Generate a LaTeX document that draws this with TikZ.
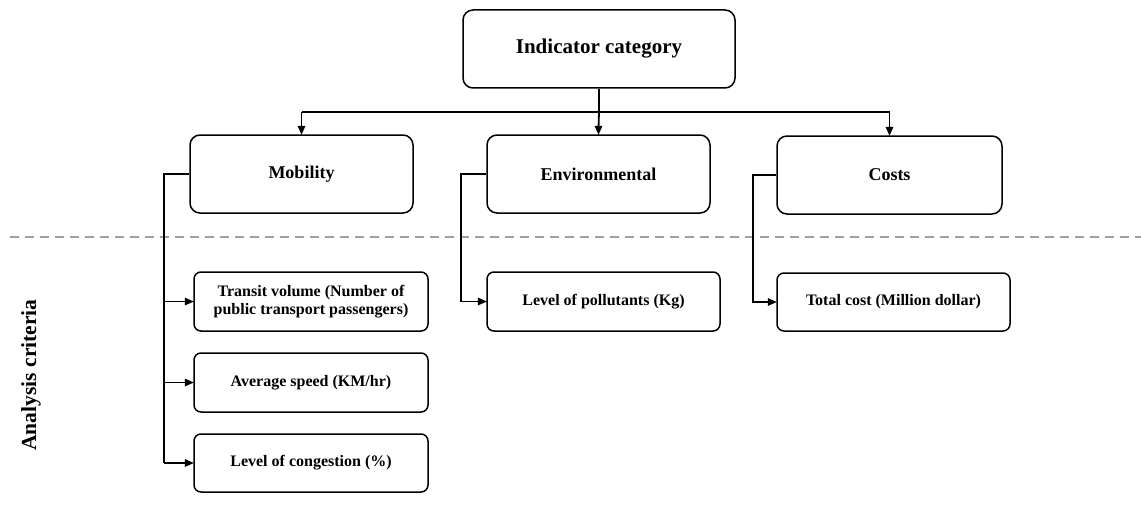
\documentclass[tikz,border=0pt]{standalone}
\usepackage{fontspec}
\setmainfont{Liberation Serif}
\begin{document}
\begin{tikzpicture}[x=1pt,y=1pt,
  box/.style={draw,line width=1.5pt,rounded corners=10pt,inner sep=0pt,align=center,font=\bfseries},
  sub/.style={draw,line width=1.5pt,rounded corners=7pt,inner sep=0pt,align=center,font=\bfseries\fontsize{16}{18.5}\selectfont},
  con/.style={line width=1.8pt},
  rtip/.pic={\fill (0.5,0) -- (-8.5,4) -- (-8.5,-4) -- cycle;},
  dtip/.pic={\fill (0,-0.5) -- (-4,8.5) -- (4,8.5) -- cycle;}]
\useasboundingbox (0,0) rectangle (1141,-519);
\node[box,minimum width=272pt,minimum height=78pt,font=\bfseries\fontsize{21}{25}\selectfont] (top) at (599,-49) {Indicator category};
\node[box,minimum width=223pt,minimum height=78pt,font=\bfseries\fontsize{18}{21}\selectfont] (mob) at (301.5,-174) {Mobility};
\node[box,minimum width=223pt,minimum height=78pt,font=\bfseries\fontsize{18}{21}\selectfont] (env) at (598.5,-174) {Environmental};
\node[box,minimum width=225pt,minimum height=78pt,font=\bfseries\fontsize{18}{21}\selectfont] (cost) at (889.5,-175) {Costs};
\node[sub,minimum width=234pt,minimum height=59pt] (tv) at (311,-301.5) {Transit volume (Number of\\public transport passengers)};
\node[sub,minimum width=234pt,minimum height=59pt] (sp) at (311,-382.5) {Average speed (KM/hr)};
\node[sub,minimum width=234pt,minimum height=58pt] (cg) at (311,-463) {Level of congestion (\%)};
\node[sub,minimum width=233pt,minimum height=59pt] (pol) at (603.5,-301.5) {Level of pollutants (Kg)};
\node[sub,minimum width=233pt,minimum height=58pt] (tc) at (893.5,-302) {Total cost (Million dollar)};
\node[rotate=90,font=\bfseries\fontsize{21.5}{25}\selectfont] (ac) at (31,-375) {Analysis criteria};
% dashed separator
\coordinate (dl) at (10,-237);
\coordinate (dr) at (1141,-237);
\draw[gray!75,line width=1.6pt,dash pattern=on 9pt off 6pt] (dl) -- (dr);
% top connectors
\coordinate (bar) at (599,-112);
\draw[con] (top.south) -- (bar);
\draw[con] (mob.north |- bar) -- (cost.north |- bar);
\draw[con] (mob.north |- bar) -- ([yshift=6pt]mob.north);
\draw[con] (bar) -- ([yshift=6pt]env.north);
\draw[con] (cost.north |- bar) -- ([yshift=6pt]cost.north);
\pic at (mob.north) {dtip};
\pic at (env.north) {dtip};
\pic at (cost.north) {dtip};
% mobility branch
\draw[con] (mob.west) -- ++(-25,0) coordinate (mt) -- (mt |- cg.west);
\draw[con] (mt |- tv.west) -- ([xshift=-6pt]tv.west);
\draw[con] (mt |- sp.west) -- ([xshift=-6pt]sp.west);
\draw[con] (mt |- cg.west) -- ([xshift=-6pt]cg.west);
\pic at (tv.west) {rtip};
\pic at (sp.west) {rtip};
\pic at (cg.west) {rtip};
% environmental branch
\draw[con] (env.west) -- ++(-25,0) |- ([xshift=-6pt]pol.west);
\pic at (pol.west) {rtip};
% costs branch
\draw[con] (cost.west) -- ++(-23,0) |- ([xshift=-6pt]tc.west);
\pic at (tc.west) {rtip};
\end{tikzpicture}
\end{document}
